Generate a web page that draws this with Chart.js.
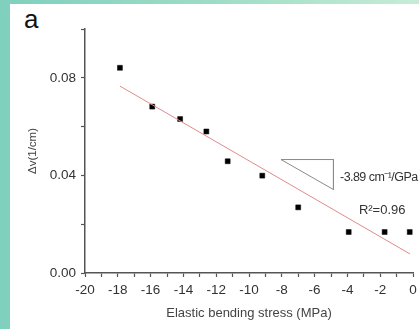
<!DOCTYPE html>
<html>
<head>
<meta charset="utf-8">
<script src="https://cdn.jsdelivr.net/npm/chart.js@4"></script>
<style>
    html, body {
        margin: 0;
        padding: 0;
        width: 419px;
        height: 329px;
        overflow: hidden;
        background: linear-gradient(90deg, #7fd0bd 0%, #9ddcc6 50%, #c6ecd6 100%);
    }
    #panel {
        position: absolute;
        left: 10px;
        top: 4px;
        width: 409px;
        height: 325px;
        background: #ffffff;
    }
    #tag {
        position: absolute;
        left: 24px;
        top: 4px;
        font: 26px "Liberation Sans", Arial, sans-serif;
        color: #111;
    }
    #wrap {
        position: absolute;
        left: 0;
        top: 0;
        width: 419px;
        height: 329px;
    }
</style>
</head>
<body>
<div id="panel"></div>
<div id="tag">a</div>
<div id="wrap"><canvas id="stressChart"></canvas></div>
<script>
// measured points
const stressX = [-17.87, -15.9, -14.2, -12.6, -11.3, -9.19, -7.0, -3.92, -1.73, -0.2];
const shiftY = [0.0841, 0.0682, 0.0631, 0.0580, 0.0458, 0.0399, 0.0269, 0.0168, 0.0168, 0.0168];

// linear fit ends
const fitX = [-17.87, -0.18];
const fitY = [0.0766, 0.0078];

// slope triangle
const triX = [-8.05, -4.85, -4.85, -8.05];
const triY = [0.0465, 0.0465, 0.0342, 0.0465];

// annotations
const noteText = ['-3.89 cm\u207B\u00B9/GPa', 'R\u00B2=0.96'];
const noteX = [-4.45, -3.3];
const noteY = [0.0392, 0.0256];
const noteSize = [12.5, 13];
const noteSpacing = ['-0.55px', '0px'];

const xTitle = 'Elastic bending stress (MPa)';
const yTitle = '\u0394v(1/cm)';

const toPts = (xs, ys) => xs.map((x, i) => ({x: x, y: ys[i]}));

const notesPlugin = {
    id: 'notes',
    afterDatasetsDraw(chart) {
        const ctx = chart.ctx;
        const xs = chart.scales.x;
        const ys = chart.scales.y;
        ctx.save();
        ctx.fillStyle = '#333';
        ctx.textBaseline = 'middle';
        ctx.textAlign = 'left';
        noteText.forEach((t, i) => {
            ctx.font = noteSize[i] + 'px "Liberation Sans", Arial, sans-serif';
            ctx.letterSpacing = noteSpacing[i];
            ctx.fillText(t, xs.getPixelForValue(noteX[i]), ys.getPixelForValue(noteY[i]));
        });
        ctx.restore();
    }
};

const datasets = [{
    label: 'fit',
    data: toPts(fitX, fitY),
    showLine: true,
    borderColor: '#e08a8a',
    borderWidth: 1,
    pointRadius: 0,
}, {
    label: 'slope',
    data: toPts(triX, triY),
    showLine: true,
    borderColor: '#8a8a8a',
    borderWidth: 1,
    pointRadius: 0,
}, {
    label: 'data',
    data: toPts(stressX, shiftY),
    pointStyle: 'rect',
    pointRadius: 3.5,
    pointBackgroundColor: '#000',
    pointBorderColor: '#000',
    pointBorderWidth: 0.5,
}];

const chartOptions = {
    responsive: true,
    maintainAspectRatio: false,
    animation: false,
    layout: {
        padding: {
            left: 0,
            right: 6,
            top: 29,
            bottom: 0,
        },
    },
    plugins: {
        legend: { display: false },
        tooltip: { enabled: false },
    },
    scales: {
        x: {
            type: 'linear',
            min: -20,
            max: 0,
            afterFit: (axis) => {
                axis.height = 56;
                axis.paddingLeft = 0;
                axis.paddingRight = 0;
            },
            border: { display: true, color: '#555', width: 1.5 },
            grid: {
                drawOnChartArea: false,
                drawTicks: true,
                tickLength: 4,
                tickColor: '#555',
                tickWidth: 1.2,
            },
            ticks: {
                stepSize: 1,
                padding: 5,
                maxRotation: 0,
                autoSkip: false,
                color: '#333',
                font: { family: '"Liberation Sans", Arial, sans-serif', size: 13.5 },
                callback: (v) => (Math.round(v) % 2 === 0 ? String(Math.round(v)) : ''),
            },
            title: {
                display: true,
                text: xTitle,
                color: '#444',
                padding: { top: 2, bottom: 8 },
                font: { family: '"Liberation Sans", Arial, sans-serif', size: 13 },
            },
        },
        y: {
            type: 'linear',
            min: 0,
            max: 0.1,
            afterFit: (axis) => {
                axis.width = 85;
                axis.paddingTop = 0;
                axis.paddingBottom = 0;
            },
            border: { display: true, color: '#555', width: 1.5 },
            grid: {
                drawOnChartArea: false,
                drawTicks: true,
                tickLength: 4,
                tickColor: '#555',
                tickWidth: 1.2,
            },
            ticks: {
                stepSize: 0.02,
                padding: 5,
                autoSkip: false,
                color: '#333',
                font: { family: '"Liberation Sans", Arial, sans-serif', size: 13.5 },
                callback: (v) => {
                    const k = v / 0.04;
                    return Math.abs(k - Math.round(k)) < 1e-6 ? v.toFixed(2) : '';
                },
            },
            title: {
                display: true,
                text: yTitle,
                color: '#444',
                padding: { top: 26 },
                font: { family: '"Liberation Sans", Arial, sans-serif', size: 11.5 },
            },
        },
    },
};

new Chart(document.getElementById('stressChart'), {
    type: 'scatter',
    data: { datasets: datasets },
    options: chartOptions,
    plugins: [notesPlugin],
});
</script>
</body>
</html>
